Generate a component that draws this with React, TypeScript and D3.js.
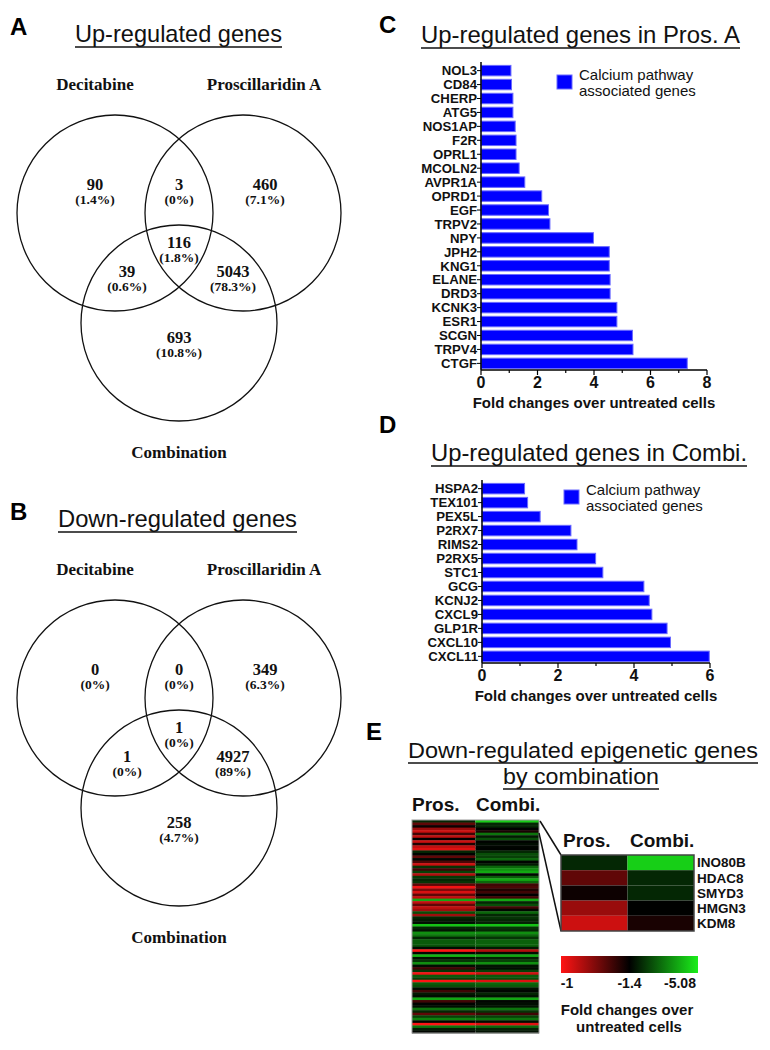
import * as d3 from "d3";

const sans = "'Liberation Sans', Arial, sans-serif";
const serif = "'Liberation Serif', 'Times New Roman', serif";

// Venn diagrams (regions: D only, D∩P, P only, all three, D∩C, P∩C, C only)
const setNames = ["Decitabine", "Proscillaridin A", "Combination"];
const upCounts = [90, 3, 460, 116, 39, 5043, 693];
const upPercents = ["1.4%", "0%", "7.1%", "1.8%", "0.6%", "78.3%", "10.8%"];
const downCounts = [0, 0, 349, 1, 1, 4927, 258];
const downPercents = ["0%", "0%", "6.3%", "0%", "0%", "89%", "4.7%"];

// Panel C
const prosGenes = ["NOL3", "CD84", "CHERP", "ATG5", "NOS1AP", "F2R", "OPRL1", "MCOLN2", "AVPR1A", "OPRD1", "EGF",
  "TRPV2", "NPY", "JPH2", "KNG1", "ELANE", "DRD3", "KCNK3", "ESR1", "SCGN", "TRPV4", "CTGF"];
const prosFold = [1.06, 1.08, 1.13, 1.13, 1.21, 1.24, 1.24, 1.35, 1.55, 2.15, 2.39,
  2.44, 3.98, 4.54, 4.54, 4.57, 4.57, 4.81, 4.81, 5.36, 5.38, 7.3];

// Panel D
const combiGenes = ["HSPA2", "TEX101", "PEX5L", "P2RX7", "RIMS2", "P2RX5", "STC1", "GCG", "KCNJ2", "CXCL9", "GLP1R", "CXCL10", "CXCL11"];
const combiFold = [1.12, 1.2, 1.53, 2.34, 2.5, 2.99, 3.18, 4.26, 4.4, 4.47, 4.87, 4.96, 5.98];

// Panel E heatmap (fold change, first five rows are the zoomed genes)
const heatColumns = ["Pros.", "Combi."];
const insetGenes = ["INO80B", "HDAC8", "SMYD3", "HMGN3", "KDM8"];
const heatPros = [
  -2.0, -1.25, -1.38, -1.16, -1.08, -1.3, -1.1, -1.4, -1.08, -1.35, -1.1, -1.05, -2.0, -1.45, -1.25, -1.5, -1.28,
  -1.08, -2.2, -1.3, -2.4, -1.12, -2.3, -2.0, -2.2, -1.25, -1.02, -1.2, -1.06, -1.25, -1.1, -4.0, -1.1, -1.25,
  -1.1, -1.15, -2.6, -1.15, -2.0, -1.8, -1.6, -4.4, -2.0, -1.7, -3.6, -3.2, -2.0, -2.8, -2.8, -2.7, -1.6, -1.0,
  -1.5, -4.2, -1.7, -2.2, -3.6, -1.6, -1.3, -2.2, -1.02, -2.8, -2.4, -1.0, -2.8, -2.6, -1.6, -1.3, -1.8, -1.6,
  -4.0, -1.3, -1.45, -1.6, -3.2, -2.0, -1.25, -2.4, -3.4, -1.5, -1.0, -3.2, -1.8, -1.5,
];
const heatCombi = [
  -4.6, -2.0, -2.0, -1.42, -1.36, -3.2, -1.8, -2.6, -1.45, -1.6, -1.5, -1.45, -2.0, -2.6, -2.4, -3.0, -1.45,
  -1.8, -3.0, -3.6, -4.0, -1.5, -2.8, -4.0, -3.0, -1.3, -1.28, -1.35, -1.3, -1.4, -1.3, -4.0, -2.0, -2.6,
  -1.3, -1.5, -3.0, -2.0, -2.2, -2.0, -1.9, -4.4, -2.2, -2.0, -3.6, -3.0, -2.2, -2.9, -2.9, -2.9, -1.8, -1.12,
  -1.6, -4.0, -1.9, -2.4, -3.6, -1.7, -1.6, -2.4, -1.08, -2.8, -2.6, -1.05, -3.0, -2.8, -1.7, -1.5, -2.0, -1.7,
  -4.0, -1.5, -1.6, -1.7, -3.2, -2.2, -1.3, -2.4, -3.2, -1.6, -1.05, -3.0, -1.9, -1.7,
];
const colorTicks = [-1, -1.4, -5.08];
const colorRange = ["#ff1414", "#000000", "#1aee1a"];

const heatColor = d3.scaleLinear<string>().domain(colorTicks).range(colorRange).clamp(true);

function TitleText({ x, y, width, text, size = 24 }) {
  return (
    <g>
      <text x={x} y={y} fontFamily={sans} fontSize={size} textLength={width} lengthAdjust="spacingAndGlyphs" fill="#111">
        {text}
      </text>
      <line x1={x} x2={x + width} y1={y + 5} y2={y + 5} stroke="#111" strokeWidth={1.5} />
    </g>
  );
}

function PanelLetter({ x, y, letter }) {
  return (
    <text x={x} y={y} fontFamily={sans} fontWeight="bold" fontSize={24} fill="#000">
      {letter}
    </text>
  );
}

const circleCenters = [[115, 213], [243, 213], [179, 323]];
const regionPos = [[95, 190], [179, 190], [265, 190], [179, 248], [127, 277], [233, 277], [179, 343]];

function Venn({ dy, letter, title, titleX, titleW, counts, percents }) {
  return (
    <g transform={`translate(0,${dy})`}>
      <PanelLetter x={10} y={35} letter={letter} />
      <TitleText x={titleX} y={42} width={titleW} text={title} />
      {circleCenters.map(([cx, cy], i) => (
        <circle key={i} cx={cx} cy={cy} r={98} fill="none" stroke="#111" strokeWidth={1.3} />
      ))}
      <g fontFamily={serif} fontWeight="bold" fill="#111" textAnchor="middle">
        <text x={95} y={90} fontSize={17}>{setNames[0]}</text>
        <text x={264} y={90} fontSize={17}>{setNames[1]}</text>
        <text x={179} y={458} fontSize={17}>{setNames[2]}</text>
        {counts.map((c, i) => (
          <g key={i}>
            <text x={regionPos[i][0]} y={regionPos[i][1]} fontSize={16.5}>{c}</text>
            <text x={regionPos[i][0]} y={regionPos[i][1] + 14} fontSize={13.5}>({percents[i]})</text>
          </g>
        ))}
      </g>
    </g>
  );
}

function BarPanel({ letter, letterY, title, titleX, titleY, titleW, genes, values, xMax, xRange, yRange, axisTop, legendX, legendY }) {
  const x = d3.scaleLinear().domain([0, xMax]).range(xRange);
  const y = d3.scaleBand<string>().domain(genes).range(yRange).paddingInner(0.25).paddingOuter(0.1);
  const axisY = yRange[1];
  const ticks = x.ticks(xMax);
  return (
    <g>
      <PanelLetter x={379} y={letterY} letter={letter} />
      <TitleText x={titleX} y={titleY} width={titleW} text={title} />
      {genes.map((g, i) => (
        <rect key={g} x={x(0)} y={y(g)} width={x(values[i]) - x(0)} height={y.bandwidth()}
          fill="#0000ff" stroke="#6a6aff" strokeWidth={1} />
      ))}
      <line x1={x(0)} x2={x(0)} y1={axisTop} y2={axisY} stroke="#000" strokeWidth={1.5} />
      <line x1={x(0)} x2={x(xMax)} y1={axisY} y2={axisY} stroke="#000" strokeWidth={1.5} />
      {genes.map((g) => (
        <g key={g}>
          <line x1={x(0) - 4} x2={x(0)} y1={y(g) + y.bandwidth() / 2} y2={y(g) + y.bandwidth() / 2} stroke="#000" strokeWidth={1} />
          <text x={x(0) - 4} y={y(g) + y.bandwidth() / 2} dy="0.36em" textAnchor="end"
            fontFamily={sans} fontWeight="bold" fontSize={13.2} fill="#111">{g}</text>
        </g>
      ))}
      {ticks.map((t) => (
        <g key={t}>
          <line x1={x(t)} x2={x(t)} y1={axisY} y2={axisY + (t % 2 === 0 ? 5 : 3)} stroke="#000" strokeWidth={1.2} />
          {t % 2 === 0 && (
            <text x={x(t)} y={axisY + 18} textAnchor="middle" fontFamily={sans} fontWeight="bold" fontSize={16} fill="#111">{t}</text>
          )}
        </g>
      ))}
      <text x={(xRange[0] + xRange[1]) / 2} y={axisY + 38} textAnchor="middle" fontFamily={sans} fontWeight="bold" fontSize={15} fill="#111">
        Fold changes over untreated cells
      </text>
      <rect x={legendX} y={legendY} width={15} height={14} fill="#0000ff" stroke="#6a6aff" />
      <text x={legendX + 22} y={legendY + 5} fontFamily={sans} fontSize={15} fill="#111">Calcium pathway</text>
      <text x={legendX + 22} y={legendY + 21} fontFamily={sans} fontSize={15} fill="#111">associated genes</text>
    </g>
  );
}

function HeatPanel() {
  const rows = d3.range(heatPros.length);
  const col = d3.scaleBand<string>().domain(heatColumns).range([412, 539]);
  const row = d3.scaleBand<number>().domain(rows).range([820, 1033]);
  const inCol = d3.scaleBand<string>().domain(heatColumns).range([561, 694]);
  const inRow = d3.scaleBand<string>().domain(insetGenes).range([855, 931]);
  const series = [heatPros, heatCombi];
  const bar = d3.scaleLinear().domain([0, 0.5, 1]).range([561, 629.5, 698]);
  return (
    <g>
      <PanelLetter x={366} y={740} letter="E" />
      <TitleText x={408} y={758} width={350} text="Down-regulated epigenetic genes" size={22} />
      <TitleText x={503} y={784} width={156} text="by combination" size={22} />
      <g fontFamily={sans} fontWeight="bold" fontSize={19} fill="#111">
        <text x={412} y={811}>Pros.</text>
        <text x={476} y={811}>Combi.</text>
        <text x={563} y={847}>Pros.</text>
        <text x={630} y={847}>Combi.</text>
      </g>
      {heatColumns.map((c, ci) =>
        rows.map((r) => (
          <rect key={c + r} x={col(c)} y={row(r)} width={col.bandwidth()} height={row.bandwidth() + 0.4}
            fill={heatColor(series[ci][r])} />
        ))
      )}
      <rect x={412} y={820} width={127} height={213} fill="none" stroke="#999" strokeWidth={1} />
      <line x1={540} y1={821} x2={561} y2={855} stroke="#111" strokeWidth={1.5} />
      <line x1={539} y1={833} x2={561} y2={931} stroke="#111" strokeWidth={1.5} />
      {heatColumns.map((c, ci) =>
        insetGenes.map((g, gi) => (
          <rect key={c + g} x={inCol(c)} y={inRow(g)} width={inCol.bandwidth()} height={inRow.bandwidth()}
            fill={heatColor(series[ci][gi])} />
        ))
      )}
      <rect x={561} y={855} width={133} height={76} fill="none" stroke="#444" strokeWidth={1.5} />
      {insetGenes.map((g) => (
        <text key={g} x={697} y={inRow(g) + inRow.bandwidth() / 2} dy="0.36em" fontFamily={sans} fontWeight="bold" fontSize={13.5} fill="#111">{g}</text>
      ))}
      <defs>
        <linearGradient id="fcGrad" x1="0" x2="1" y1="0" y2="0">
          {colorTicks.map((v, i) => (
            <stop key={v} offset={`${i * 50}%`} stopColor={heatColor(v)} />
          ))}
        </linearGradient>
      </defs>
      <rect x={561} y={956} width={137} height={17} fill="url(#fcGrad)" />
      <g fontFamily={sans} fontWeight="bold" fontSize={14} fill="#111" textAnchor="middle">
        {colorTicks.map((v, i) => (
          <text key={v} x={i === 0 ? 567 : i === 1 ? bar(0.5) : 680} y={988}>{v}</text>
        ))}
      </g>
      <g fontFamily={sans} fontWeight="bold" fontSize={15} fill="#111" textAnchor="middle">
        <text x={627} y={1015}>Fold changes over</text>
        <text x={629} y={1032}>untreated cells</text>
      </g>
    </g>
  );
}

export default function App() {
  return (
    <svg width={770} height={1050} style={{ position: "absolute", left: 0, top: 0, background: "#fff" }}>
      <rect width={770} height={1050} fill="#fff" />
      <Venn dy={0} letter="A" title="Up-regulated genes" titleX={75} titleW={207} counts={upCounts} percents={upPercents} />
      <Venn dy={485} letter="B" title="Down-regulated genes" titleX={58} titleW={239} counts={downCounts} percents={downPercents} />
      <BarPanel letter="C" letterY={33} title="Up-regulated genes in Pros. A" titleX={421} titleY={43} titleW={319}
        genes={prosGenes} values={prosFold} xMax={8} xRange={[481, 707]} yRange={[64, 370]} axisTop={62}
        legendX={557} legendY={75} />
      <BarPanel letter="D" letterY={433} title="Up-regulated genes in Combi." titleX={431} titleY={461} titleW={316}
        genes={combiGenes} values={combiFold} xMax={6} xRange={[482, 710]} yRange={[482, 663]} axisTop={480}
        legendX={564} legendY={490} />
      <HeatPanel />
    </svg>
  );
}
